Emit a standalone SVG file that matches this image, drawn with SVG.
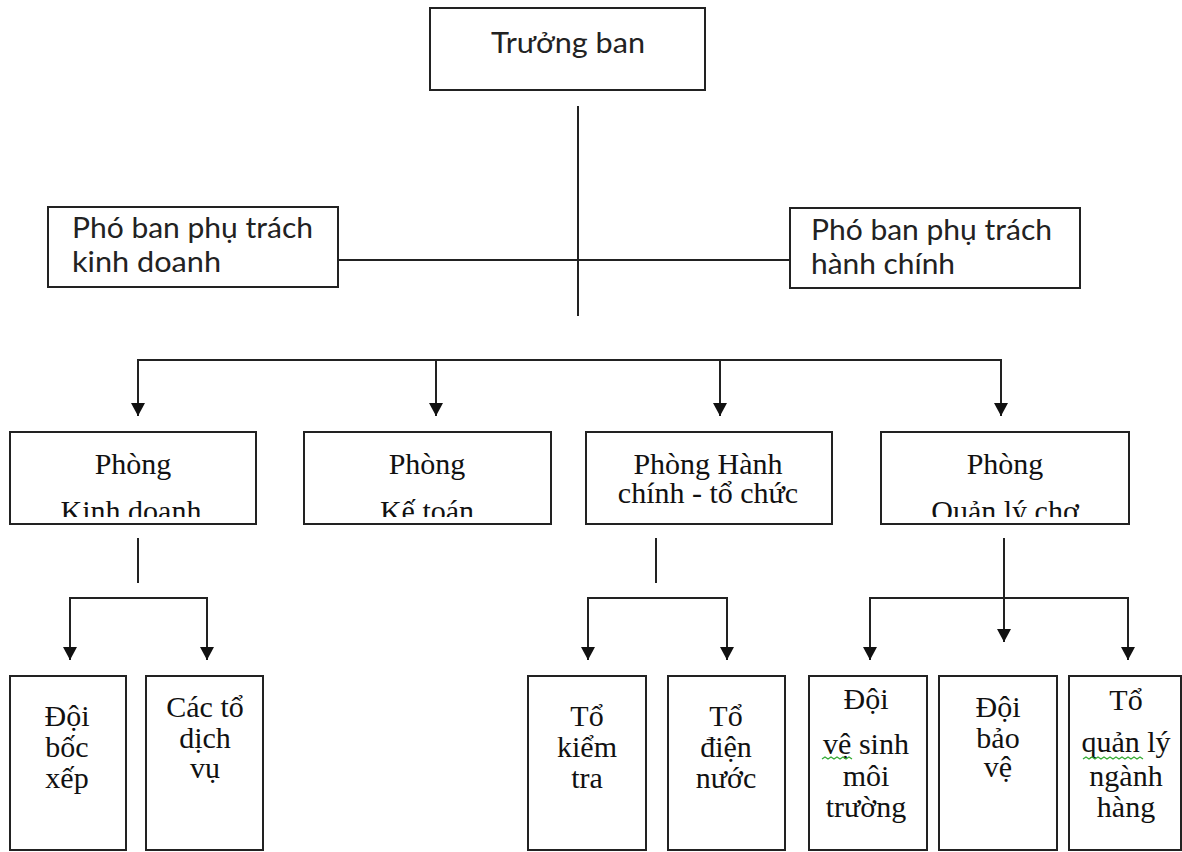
<svg xmlns="http://www.w3.org/2000/svg" width="1182" height="852" viewBox="0 0 1182 852">
<style>
.box{fill:#fff;stroke:#222;stroke-width:2}
.ln{fill:none;stroke:#222;stroke-width:2}
.sans{font-family:Lato,"Open Sans","Liberation Sans",sans-serif;font-size:28px;fill:#222}
.serif{font-family:"Liberation Serif","Times New Roman",serif;font-size:30px;fill:#111;text-anchor:middle}
.sq{fill:none;stroke:#3a3;stroke-width:1.3}
</style>
<defs>
<marker id="ah" markerUnits="userSpaceOnUse" markerWidth="14" markerHeight="14" refX="13" refY="7" orient="auto">
<path d="M0,0 L13,7 L0,14 Z" fill="#111"/>
</marker>
<clipPath id="clipRow"><rect x="0" y="0" width="1182" height="517"/></clipPath>
</defs>
<rect width="1182" height="852" fill="#fff"/>

<g id="connectors">
<path class="ln" d="M578,106 V316"/>
<path class="ln" d="M338,260 H790"/>
<path class="ln" d="M138,416 V360 H1001 V416"/>
<path class="ln" d="M436,360 V416" marker-end="url(#ah)"/>
<path class="ln" d="M720,360 V416" marker-end="url(#ah)"/>
<path class="ln" d="M138,400 V416" marker-end="url(#ah)"/>
<path class="ln" d="M1001,400 V416" marker-end="url(#ah)"/>
<path class="ln" d="M138,538 V583"/>
<path class="ln" d="M70,660 V598 H207 V660"/>
<path class="ln" d="M70,645 V660" marker-end="url(#ah)"/>
<path class="ln" d="M207,645 V660" marker-end="url(#ah)"/>
<path class="ln" d="M656,538 V583"/>
<path class="ln" d="M588,660 V598 H727 V660"/>
<path class="ln" d="M588,645 V660" marker-end="url(#ah)"/>
<path class="ln" d="M727,645 V660" marker-end="url(#ah)"/>
<path class="ln" d="M1004,538 V642" marker-end="url(#ah)"/>
<path class="ln" d="M870,660 V598 H1128 V660"/>
<path class="ln" d="M870,645 V660" marker-end="url(#ah)"/>
<path class="ln" d="M1128,645 V660" marker-end="url(#ah)"/>
</g>

<g id="truong-ban">
<rect class="box" x="430" y="8" width="275" height="82"/>
<text class="sans" x="491" y="53" textLength="154" lengthAdjust="spacingAndGlyphs">Trưởng ban</text>
</g>
<g id="pho-ban-kd">
<rect class="box" x="48" y="207" width="290" height="80"/>
<text class="sans" x="72" y="238" textLength="241" lengthAdjust="spacingAndGlyphs">Phó ban phụ trách</text>
<text class="sans" x="72" y="272" textLength="149" lengthAdjust="spacingAndGlyphs">kinh doanh</text>
</g>
<g id="pho-ban-hc">
<rect class="box" x="790" y="208" width="290" height="80"/>
<text class="sans" x="811" y="240" textLength="241" lengthAdjust="spacingAndGlyphs">Phó ban phụ trách</text>
<text class="sans" x="811" y="274" textLength="144" lengthAdjust="spacingAndGlyphs">hành chính</text>
</g>

<g id="phong-kd">
<rect class="box" x="10" y="432" width="246" height="92"/>
<text class="serif" x="133" y="474">Phòng</text>
<text class="serif" x="131" y="521" clip-path="url(#clipRow)">Kinh doanh</text>
</g>
<g id="phong-kt">
<rect class="box" x="304" y="432" width="247" height="92"/>
<text class="serif" x="427" y="474">Phòng</text>
<text class="serif" x="427" y="521" clip-path="url(#clipRow)">Kế toán</text>
</g>
<g id="phong-hc">
<rect class="box" x="586" y="432" width="246" height="92"/>
<text class="serif" x="708" y="474">Phòng Hành</text>
<text class="serif" x="708" y="503">chính - tổ chức</text>
</g>
<g id="phong-qlc">
<rect class="box" x="881" y="432" width="248" height="92"/>
<text class="serif" x="1005" y="474">Phòng</text>
<text class="serif" x="1005" y="521" clip-path="url(#clipRow)">Quản lý chợ</text>
</g>

<g id="doi-boc-xep">
<rect class="box" x="10" y="676" width="116" height="174"/>
<text class="serif" x="67" y="726">Đội</text>
<text class="serif" x="67" y="757">bốc</text>
<text class="serif" x="67" y="788">xếp</text>
</g>
<g id="cac-to-dich-vu">
<rect class="box" x="146" y="676" width="117" height="174"/>
<text class="serif" x="205" y="717">Các tổ</text>
<text class="serif" x="205" y="748">dịch</text>
<text class="serif" x="205" y="778">vụ</text>
</g>
<g id="to-kiem-tra">
<rect class="box" x="528" y="676" width="118" height="174"/>
<text class="serif" x="587" y="726">Tổ</text>
<text class="serif" x="587" y="757">kiểm</text>
<text class="serif" x="587" y="788">tra</text>
</g>
<g id="to-dien-nuoc">
<rect class="box" x="668" y="676" width="117" height="174"/>
<text class="serif" x="726" y="726">Tổ</text>
<text class="serif" x="726" y="757">điện</text>
<text class="serif" x="726" y="788">nước</text>
</g>
<g id="doi-ve-sinh">
<rect class="box" x="809" y="676" width="118" height="174"/>
<text class="serif" x="866" y="709">Đội</text>
<text class="serif" x="866" y="754">vệ sinh</text>
<text class="serif" x="866" y="786">môi</text>
<text class="serif" x="866" y="817">trường</text>
<path class="sq" d="M822,759 l3,-2 l3,2 l3,-2 l3,2 l3,-2 l3,2 l3,-2 l3,2 l3,-2 l3,2"/>
</g>
<g id="doi-bao-ve">
<rect class="box" x="939" y="676" width="118" height="174"/>
<text class="serif" x="998" y="717">Đội</text>
<text class="serif" x="998" y="748">bảo</text>
<text class="serif" x="998" y="777">vệ</text>
</g>
<g id="to-quan-ly-nganh-hang">
<rect class="box" x="1069" y="676" width="112" height="174"/>
<text class="serif" x="1126" y="710">Tổ</text>
<text class="serif" x="1126" y="752">quản lý</text>
<text class="serif" x="1126" y="786">ngành</text>
<text class="serif" x="1126" y="817">hàng</text>
<path class="sq" d="M1083,759 l3,-2 l3,2 l3,-2 l3,2 l3,-2 l3,2 l3,-2 l3,2 l3,-2 l3,2 l3,-2 l3,2 l3,-2 l3,2 l3,-2 l3,2 l3,-2 l3,2 l3,-2 l3,2"/>
</g>
</svg>
